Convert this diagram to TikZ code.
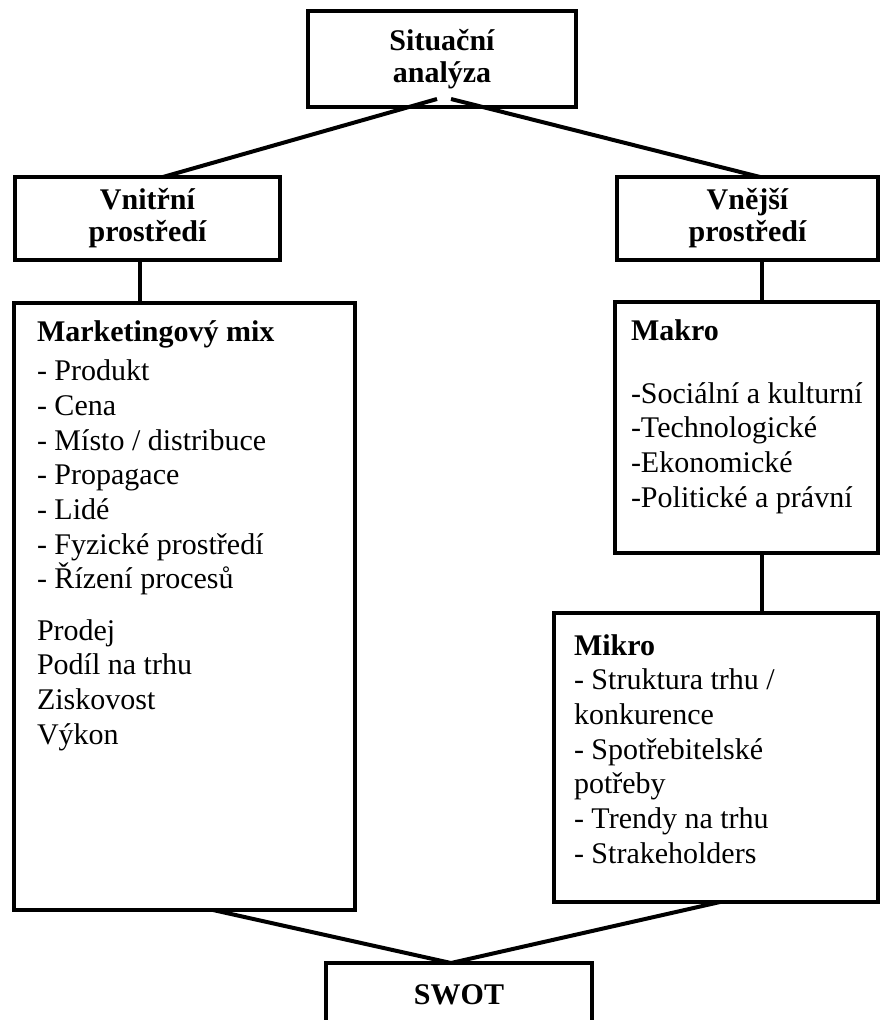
\documentclass[tikz,border=0pt]{standalone}
\usepackage{fontspec}
\setmainfont{Liberation Serif}
\tikzset{every picture/.style={line width=3pt}}
\tikzset{
  box/.style={draw, rectangle, line width=3pt, outer sep=0pt, inner sep=0pt, align=center, font=\fontsize{22.5}{24}\selectfont\bfseries},
  listtext/.style={anchor=base west, inner sep=0pt, align=left, font=\fontsize{22.5}{26}\selectfont},
  link/.style={line width=3pt}
}
\begin{document}
\begin{tikzpicture}[x=0.75pt,y=0.75pt,yscale=-1,xscale=1]
\useasboundingbox (0,0) rectangle (880,1020);

%Shape: Rectangle
\node [box, minimum width=201pt, minimum height=72pt] (sit) at (442,59) {Situační\\analýza};
%Shape: Rectangle
\node [box, minimum width=198.75pt, minimum height=62.25pt] (vnitrni) at (147.5,218.5) {Vnitřní\\prostředí};
%Shape: Rectangle
\node [box, minimum width=195.75pt, minimum height=62.25pt] (vnejsi) at (747.5,218.5) {Vnější\\prostředí};
%Shape: Rectangle
\node [box, minimum width=255.75pt, minimum height=455.25pt] (mix) at (184.5,606.5) {};
%Shape: Rectangle
\node [box, minimum width=197.25pt, minimum height=188.25pt] (makro) at (746.5,427.5) {};
%Shape: Rectangle
\node [box, minimum width=243pt, minimum height=216.75pt] (mikro) at (716,757.5) {};
%Shape: Rectangle
\node [box, minimum width=199.5pt, minimum height=48pt] (swot) at (459,995) {SWOT};

%Straight Lines
\draw [link] ([xshift=-3.75pt,yshift=-6pt]sit.south) -- ([xshift=11.6pt]vnitrni.north) ;
%Straight Lines
\draw [link] ([xshift=6.75pt,yshift=-6pt]sit.south) -- ([xshift=9.4pt]vnejsi.north) ;
%Straight Lines
\draw [link] ([xshift=-5.6pt]vnitrni.south) -- ([xshift=-5.6pt]vnitrni.south |- mix.north) ;
%Straight Lines
\draw [link] ([xshift=10.9pt]vnejsi.south) -- ([xshift=10.9pt]vnejsi.south |- makro.north) ;
%Straight Lines
\draw [link] ([xshift=11.6pt]makro.south) -- ([xshift=11.6pt]makro.south |- mikro.north) ;
%Straight Lines
\draw [link] ([xshift=21.4pt]mix.south) -- ([xshift=-6pt]swot.north) ;
%Straight Lines
\draw [link] ([xshift=3pt]mikro.south) -- ([xshift=-6pt]swot.north) ;

% Text Node
\node [listtext] (mixtxt) at (35,744) {{\bfseries Marketingový mix}\\[3.4pt]
- Produkt\\
- Cena\\
- Místo / distribuce\\
- Propagace\\
- Lidé\\
- Fyzické prostředí\\
- Řízení procesů\\[12.4pt]
Prodej\\
Podíl na trhu\\
Ziskovost\\
Výkon};
% Text Node
\node [listtext] (makrotxt) at (629,507) {{\bfseries Makro}\\[21pt]
-Sociální a kulturní\\
-Technologické\\
-Ekonomické\\
-Politické a právní};
% Text Node
\node [listtext] (mikrotxt) at (572,863) {{\bfseries Mikro}\\
- Struktura trhu /\\
konkurence\\
- Spotřebitelské\\
potřeby\\
- Trendy na trhu\\
- Strakeholders};

\end{tikzpicture}
\end{document}
